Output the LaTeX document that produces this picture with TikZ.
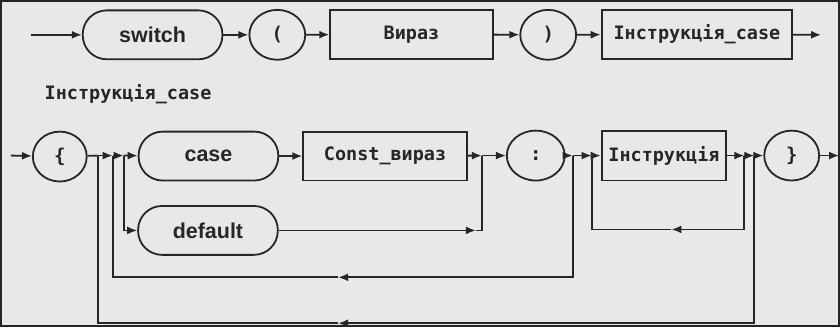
\documentclass[tikz,border=0pt]{standalone}
\usepackage{fontspec}
\usetikzlibrary{shapes.geometric,arrows.meta}
\newfontfamily\kwfont{Liberation Sans}
\newfontfamily\codefont{DejaVu Sans Mono}
\definecolor{paper}{RGB}{232,232,232}
\definecolor{ink}{RGB}{38,38,38}
\tikzset{
  every path/.style={draw=ink, line width=1.8pt, line join=miter},
  arr/.style={-{Latex[length=10pt,width=8pt]}},
  stad/.style={draw=ink, line width=1.8pt, rectangle, rounded corners=24pt,
    minimum width=140pt, minimum height=49pt, inner sep=0pt,
    font=\kwfont\bfseries\fontsize{21.5}{24}\selectfont, text=ink},
  oval/.style={draw=ink, line width=1.8pt, ellipse, minimum width=56pt,
    minimum height=50pt, inner sep=0pt,
    font=\codefont\bfseries\fontsize{19}{22}\selectfont, text=ink},
  box/.style={draw=ink, line width=1.8pt, rectangle, minimum height=49pt,
    inner sep=0pt, font=\codefont\bfseries\fontsize{18.5}{22}\selectfont, text=ink},
}
\begin{document}
\begin{tikzpicture}[x=1pt,y=-1pt]
\fill[paper, draw=none] (0,0) rectangle (840,326);
\useasboundingbox (0,0) rectangle (840,326);

% ---- switch statement ----
\coordinate (in1) at (30,34);
\node[stad] (sw) at (152,34) {switch};
\node[oval] (lp) at (277,34) {(};
\node[box, minimum width=163pt] (expr) at (411.5,33.5) {Вираз};
\node[oval] (rp) at (548.5,34) {)};
\node[box, minimum width=191pt] (ic) at (697.5,33.5) {Інструкція\_case};
\coordinate (out1) at (822,34);

\draw[arr] (in1) -- (sw);
\draw[arr] (sw) -- (lp);
\draw[arr] (lp) -- (expr);
\draw[arr] (expr) -- (rp);
\draw[arr] (rp) -- (ic);
\draw[arr] (ic) -- (out1);

% ---- definition of the case body ----
\node[anchor=west, inner sep=0pt, text=ink,
  font=\codefont\bfseries\fontsize{18.5}{22}\selectfont] (lbl) at (43,93) {Інструкція\_case};

\coordinate (in2) at (10,155);
\node[oval, minimum width=54pt] (lb) at (59,156) {\{};
\coordinate (j1) at (97,155);
\coordinate (j2) at (112,155);
\coordinate (j3) at (123,155);
\node[stad] (cs) at (208,155.5) {case};
\node[box, minimum width=164pt] (ce) at (385,155.5) {Const\_вираз};
\coordinate (j4) at (482,155);
\node[oval, minimum width=58pt] (colon) at (536,155) {:};
\coordinate (j5) at (573,155);
\coordinate (j6) at (592,155);
\node[box, minimum width=125pt, minimum height=50pt] (ins) at (664.5,155) {Інструкція};
\coordinate (j7) at (745,155);
\coordinate (j8) at (755,155);
\node[oval, minimum width=55pt] (rb) at (792.5,155) {\}};
\coordinate (out2) at (840,155);
\node[stad] (df) at (207.5,230) {default};

% main line
\draw[arr] (in2) -- (lb);
\draw (lb) -- (j1);
\draw[arr] (j1) -- (j2);
\draw[arr] (j2) -- (j3);
\draw[arr] (j3) -- (cs);
\draw[arr] (cs) -- (ce);
\draw[arr] (ce) -- (j4);
\draw[arr] (j4) -- (colon);
\draw[arr] (colon) -- (j5);
\draw[arr] (j5) -- (j6);
\draw[arr] (j6) -- (ins);
\draw[arr] (ins) -- (j7);
\draw[arr] (j7) -- (j8);
\draw[arr] (j8) -- (rb);
\draw[arr] (rb) -- (out2);

% default branch
\coordinate (t4) at (476,230);
\draw[arr] (j3) |- (df);
\draw[arr] (df) -- (t4);
\draw (t4) -| (j4);

% repeat of case labels
\coordinate (t5) at (338,277);
\draw[arr] (j5) |- (t5);
\draw (t5) -| (j2);

% repeat of statements
\coordinate (t7) at (672,229);
\draw[arr] (j7) |- (t7);
\draw (t7) -| (j6);

% repeat of the whole alternative
\coordinate (t8) at (338,323);
\draw[arr] (j8) |- (t8);
\draw (t8) -| (j1);
\end{tikzpicture}
\end{document}
